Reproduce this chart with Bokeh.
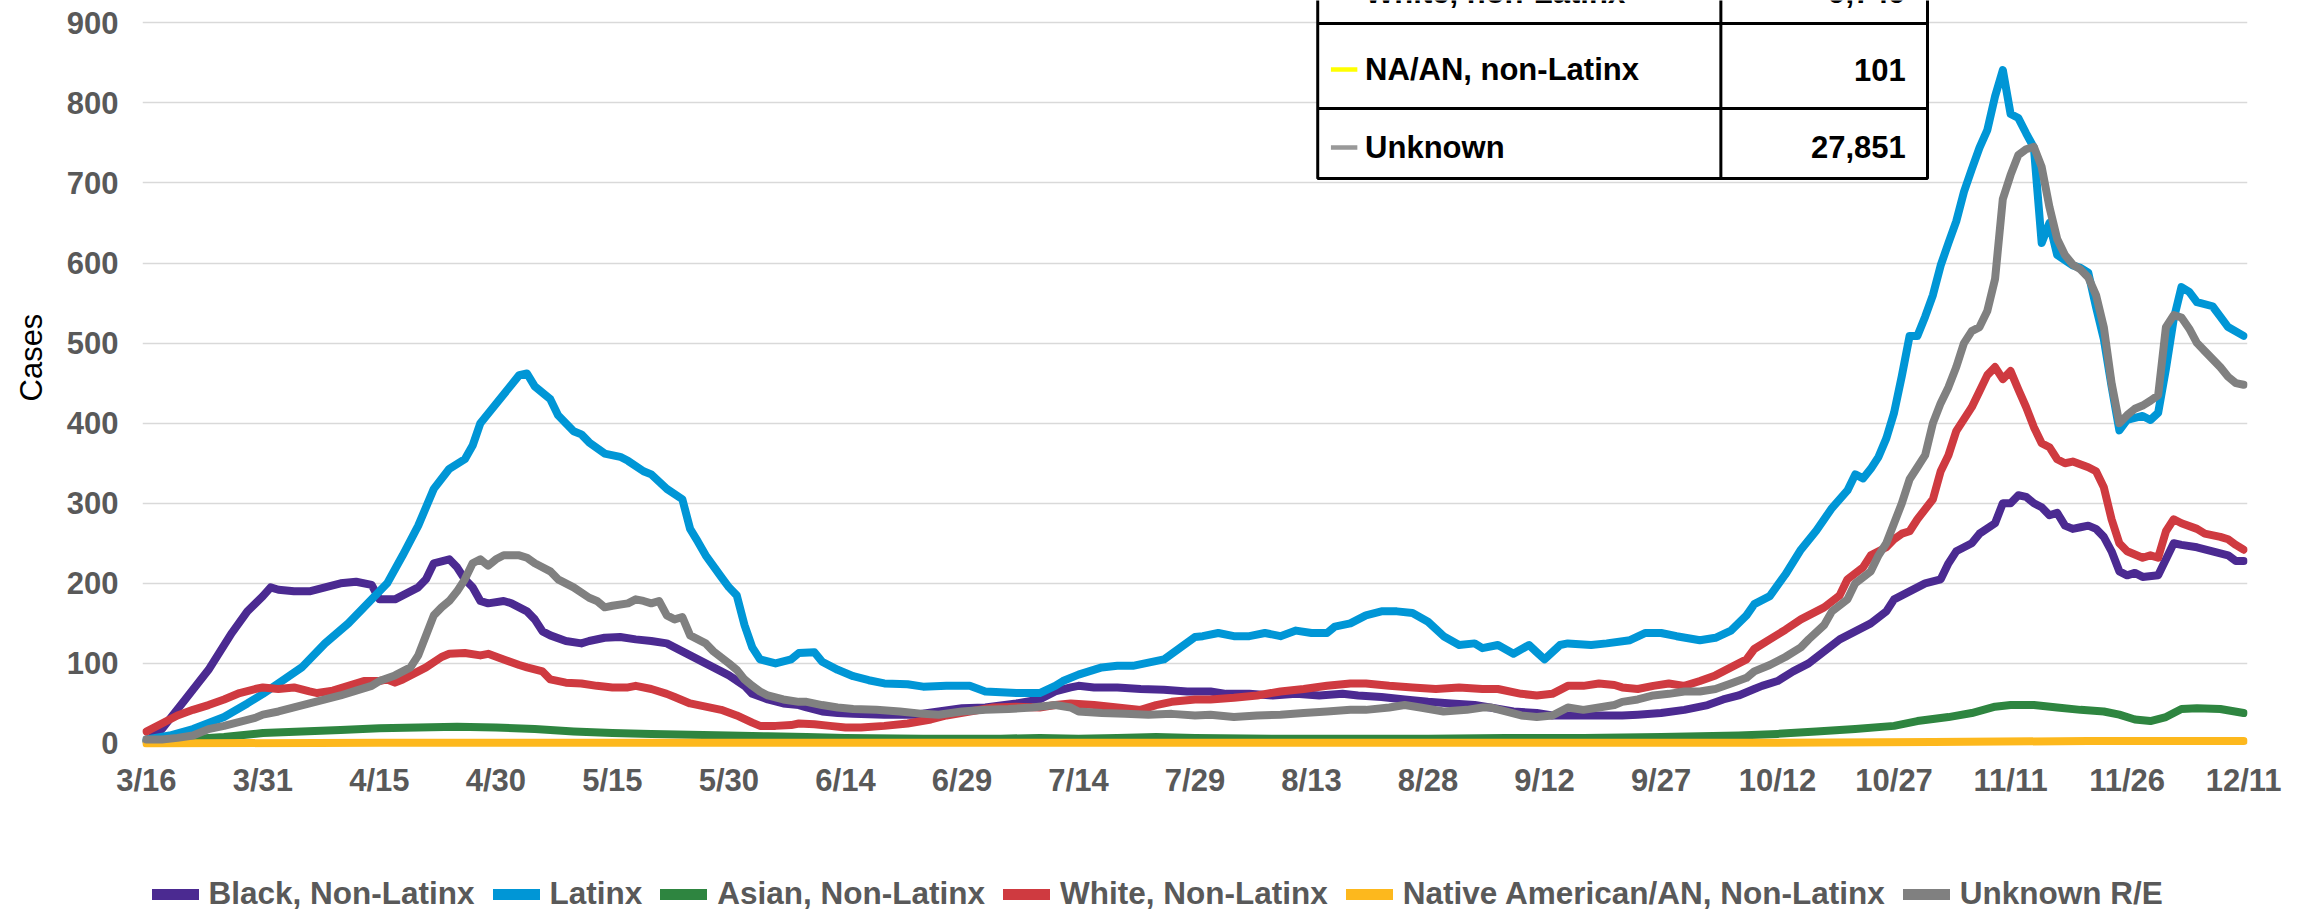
import math
from bokeh.plotting import figure
from bokeh.layouts import column
from bokeh.models import FixedTicker, Legend, LegendItem, Title, Range1d
from bokeh.embed import file_html
from bokeh.resources import INLINE
from bokeh.core.properties import value

# ---------------- data ----------------
tick_days = [0, 15, 30, 45, 60, 75, 90, 105, 120, 135, 150, 165, 180, 195, 210, 225, 240, 255, 270]
tick_labels = ["3/16", "3/31", "4/15", "4/30", "5/15", "5/30", "6/14", "6/29", "7/14", "7/29",
               "8/13", "8/28", "9/12", "9/27", "10/12", "10/27", "11/11", "11/26", "12/11"]
y_ticks = [0, 100, 200, 300, 400, 500, 600, 700, 800, 900]

# (day offset from 3/16, cases)
black = [(0,3),(2,18),(5,55),(8,92),(11,138),(13,165),(15,184),(16,195),(17,192),(19,190),(21,190),(23,195),
         (25,200),(27,202),(29,198),(30,180),(32,180),(33,185),(35,195),(36,205),(37,225),(39,230),(40,220),
         (41,205),(42,195),(43,178),(44,175),(46,178),(47,175),(49,165),(50,155),(51,140),(52,135),(54,128),
         (56,125),(57,128),(59,132),(61,133),(63,130),(65,128),(67,125),(68,120),(70,110),(72,100),(74,90),
         (75,85),(77,72),(78,62),(80,55),(82,50),(84,48),(85,45),(87,40),(89,38),(91,37),(95,36),(99,36),
         (102,40),(105,44),(108,45),(112,50),(115,55),(117,65),(119,70),(120,72),(122,70),(125,70),(128,68),
         (131,67),(134,65),(137,65),(139,62),(142,62),(145,60),(148,62),(151,60),(154,62),(156,60),(159,58),
         (162,55),(165,52),(168,50),(171,48),(173,45),(176,40),(179,38),(181,35),(184,35),(187,35),(190,35),
         (192,36),(195,38),(198,42),(201,48),(203,55),(205,60),(207,68),(208,72),(210,78),(212,90),(214,100),
         (216,115),(218,130),(220,140),(222,150),(224,165),(225,180),(227,190),(229,200),(231,205),(232,225),
         (233,240),(235,250),(236,262),(238,275),(239,300),(240,300),(241,310),(242,308),(243,300),(244,295),
         (245,285),(246,288),(247,272),(248,268),(249,270),(250,272),(251,268),(252,258),(253,240),(254,215),
         (255,210),(256,213),(257,208),(259,210),(260,230),(261,250),(262,248),(264,245),(266,240),(268,235),
         (269,228),(270,228)]
latinx = [(0,5),(3,10),(6,18),(10,33),(13,50),(15,62),(17,75),(20,95),(23,125),(26,150),(28,170),(31,200),
          (33,235),(35,272),(37,318),(39,343),(41,355),(42,372),(43,400),(45,424),(47,448),(48,460),(49,462),
          (50,446),(52,430),(53,410),(55,390),(56,386),(57,376),(59,362),(61,358),(62,353),(64,340),(65,336),
          (67,318),(69,305),(70,268),(71,252),(72,235),(74,208),(75,195),(76,185),(77,148),(78,120),(79,105),
          (81,100),(83,105),(84,113),(86,114),(87,102),(89,92),(91,84),(93,79),(95,75),(98,74),(100,71),
          (103,72),(106,72),(108,65),(112,63),(115,63),(117,72),(118,78),(120,86),(123,95),(125,97),(127,97),
          (129,101),(131,105),(133,119),(135,133),(136,134),(138,138),(140,134),(142,134),(144,138),(146,134),
          (148,141),(150,138),(152,138),(153,146),(155,150),(157,160),(159,165),(161,165),(163,163),(165,152),
          (167,134),(169,123),(171,125),(172,119),(174,123),(176,112),(178,123),(179,114),(180,105),(182,123),
          (183,125),(186,123),(188,125),(191,129),(193,138),(195,138),(197,134),(200,129),(202,132),(204,141),
          (206,160),(207,174),(209,184),(211,211),(213,242),(215,266),(217,294),(219,316),(220,336),(221,331),
          (222,343),(223,358),(224,381),(225,413),(226,459),(227,509),(228,509),(229,533),(230,560),(231,597),
          (232,625),(233,652),(234,689),(235,717),(236,744),(237,766),(238,808),(239,841),(240,786),(241,781),
          (242,762),(243,744),(244,625),(245,650),(246,610),(248,597),(249,594),(250,588),(251,545),(252,505),
          (253,446),(254,391),(255,404),(257,409),(258,404),(259,413),(260,468),(261,530),(262,570),(263,564),
          (264,551),(266,546),(267,533),(268,520),(270,509)]
asian = [(0,3),(5,5),(10,8),(15,13),(20,15),(25,17),(30,19),(35,20),(40,21),(45,20),(50,18),(55,15),(60,13),
         (65,12),(70,11),(75,10),(80,9),(85,8),(90,7),(100,6),(110,6),(115,7),(120,6),(125,7),(130,8),(135,7),
         (145,6),(155,6),(165,6),(175,7),(185,7),(195,8),(200,9),(205,10),(210,12),(215,15),(220,18),(225,22),
         (228,28),(232,33),(235,38),(238,46),(240,48),(243,48),(246,45),(249,42),(252,40),(254,36),(256,30),
         (258,28),(260,33),(262,43),(264,44),(267,43),(270,38)]
white = [(0,15),(2,25),(4,35),(6,42),(8,48),(10,55),(12,63),(14,68),(15,70),(17,68),(19,70),(21,65),(22,63),
         (24,66),(26,72),(28,78),(30,78),(31,80),(32,76),(33,80),(34,85),(36,95),(38,108),(39,112),(41,113),
         (43,110),(44,112),(46,105),(48,98),(49,95),(51,90),(52,80),(54,76),(56,75),(58,72),(60,70),(62,70),
         (63,72),(65,68),(67,62),(68,58),(70,50),(72,46),(74,42),(76,35),(78,26),(79,22),(81,22),(83,23),
         (84,25),(86,24),(88,22),(90,20),(92,20),(95,22),(98,25),(101,30),(103,35),(106,40),(109,45),(112,46),
         (115,45),(117,48),(119,50),(122,48),(125,45),(128,42),(130,48),(132,52),(135,55),(137,55),(140,57),
         (143,60),(146,65),(149,68),(152,72),(155,75),(157,75),(160,72),(163,70),(166,68),(169,70),(172,68),
         (174,68),(177,62),(179,60),(181,62),(183,72),(185,72),(187,75),(189,73),(190,70),(192,68),(194,72),
         (196,75),(198,72),(200,78),(202,85),(204,95),(206,105),(207,118),(209,130),(211,142),(213,155),
         (215,165),(216,170),(218,185),(219,205),(221,220),(222,235),(224,245),(225,255),(226,262),(227,265),
         (228,280),(230,305),(231,340),(232,360),(233,390),(234,405),(235,420),(236,440),(237,460),(238,470),
         (239,455),(240,465),(241,442),(242,420),(243,395),(244,375),(245,370),(246,355),(247,350),(248,352),
         (250,345),(251,340),(252,320),(253,280),(254,250),(255,240),(257,232),(258,235),(259,232),(260,265),
         (261,280),(262,275),(264,268),(265,262),(267,258),(268,255),(269,248),(270,242)]
native = [(0,0),(30,1),(60,1),(90,1),(120,1),(150,1),(180,1),(210,1),(230,2),(250,3),(270,3)]
unknown = [(0,5),(2,5),(4,7),(6,10),(8,18),(10,22),(12,27),(14,32),(15,36),(17,40),(19,45),(21,50),(23,55),
           (25,60),(27,66),(29,72),(30,78),(32,85),(33,90),(34,95),(35,110),(36,135),(37,160),(38,170),(39,178),
           (40,190),(41,205),(42,225),(43,230),(44,222),(45,230),(46,235),(47,235),(48,235),(49,232),(50,225),
           (52,215),(53,205),(54,200),(55,195),(57,182),(58,178),(59,170),(60,172),(62,175),(63,180),(64,178),
           (65,175),(66,178),(67,160),(68,155),(69,158),(70,135),(72,125),(73,115),(75,100),(76,92),(77,80),
           (78,72),(79,65),(80,60),(82,55),(84,52),(85,52),(87,48),(89,45),(91,43),(94,42),(97,40),(100,37),
           (102,36),(105,40),(108,42),(111,43),(114,45),(117,48),(119,45),(120,40),(123,38),(126,37),(129,36),
           (132,37),(135,35),(137,36),(140,33),(143,35),(146,36),(149,38),(152,40),(155,42),(157,42),(160,45),
           (162,48),(164,45),(167,40),(170,42),(172,45),(173,45),(175,40),(177,35),(179,33),(181,35),(183,45),
           (185,42),(187,45),(189,48),(190,52),(192,55),(194,60),(196,62),(198,65),(200,65),(202,68),(204,75),
           (206,82),(207,90),(209,98),(211,108),(213,120),(214,130),(216,148),(217,165),(219,180),(220,200),
           (222,215),(223,235),(224,250),(225,275),(226,300),(227,330),(228,345),(229,360),(230,400),(231,425),
           (232,445),(233,470),(234,500),(235,515),(236,520),(237,540),(238,580),(239,680),(240,710),(241,735),
           (242,742),(243,745),(244,720),(245,670),(246,630),(247,610),(248,598),(249,592),(250,582),(251,560),
           (252,520),(253,450),(254,400),(255,410),(256,418),(257,422),(258,428),(259,435),(260,520),(261,535),
           (262,532),(263,518),(264,500),(265,490),(266,480),(267,470),(268,458),(269,450),(270,448)]

series_names = ["Black, Non-Latinx", "Latinx", "Asian, Non-Latinx", "White, Non-Latinx",
                "Native American/AN, Non-Latinx", "Unknown R/E"]
series_data = [black, latinx, asian, white, native, unknown]
series_colors = ["#4b2a91", "#0096d6", "#2e8540", "#cf3a40", "#fdb81d", "#808080"]

table_labels = ["White, non-Latinx", "NA/AN, non-Latinx", "Unknown"]
table_values = ["9,749", "101", "27,851"]
table_marker_colors = ["#cf3a40", "#ffff00", "#999999"]

# ---------------- style / layout ----------------
FONT = "Liberation Sans"
TXT = "#595959"

p = figure(width=2305, height=866,
           min_border_left=141, min_border_right=58, min_border_top=0, min_border_bottom=119,
           x_range=Range1d(-0.5, 270.5), y_range=Range1d(-5, 927.8),
           output_backend="svg", toolbar_location=None)
p.outline_line_color = None
p.background_fill_color = "white"
p.border_fill_color = "white"

p.xgrid.grid_line_color = None
p.ygrid.ticker = FixedTicker(ticks=y_ticks)
p.ygrid.grid_line_color = "#d9d9d9"
p.ygrid.grid_line_width = 1.5

p.yaxis.ticker = FixedTicker(ticks=y_ticks)
p.xaxis.ticker = FixedTicker(ticks=tick_days)
p.xaxis.major_label_overrides = {d: l for d, l in zip(tick_days, tick_labels)}
for ax in (p.xaxis[0], p.yaxis[0]):
    ax.axis_line_color = None
    ax.major_tick_line_color = None
    ax.minor_tick_line_color = None
    ax.major_tick_out = 0
    ax.major_label_text_font = FONT
    ax.major_label_text_font_style = "bold"
    ax.major_label_text_font_size = "31px"
    ax.major_label_text_color = TXT
p.yaxis.major_label_standoff = 24
p.xaxis.major_label_standoff = 15

# y-axis title (anchored at the frame bottom, shifted up)
p.add_layout(Title(text="Cases", align="left", vertical_align="top", offset=346, standoff=26,
                   text_font=FONT, text_font_style="normal", text_font_size="31px",
                   text_color="black"), "left")

for name, data, color in zip(series_names, series_data, series_colors):
    xs = [d for d, _ in data]
    ys = [v for _, v in data]
    p.line(xs, ys, line_color=color, line_width=8, line_join="round", line_cap="round")

# ---------------- summary table (top right) ----------------
tx = [150.8, 202.7, 229.3]
ty = [1010, 899.1, 793.0, 705.5]
row_mid = [937.8, 841.6, 744.3]
p.quad(left=tx[0], right=tx[2], top=ty[0], bottom=ty[3], fill_color="white", line_color="black", line_width=3)
p.segment(x0=[tx[1], tx[0], tx[0]], y0=[ty[0], ty[1], ty[2]], x1=[tx[1], tx[2], tx[2]], y1=[ty[3], ty[1], ty[2]],
          line_color="black", line_width=3)
p.segment(x0=[152.5] * 3, y0=row_mid, x1=[155.9] * 3, y1=row_mid, line_color=table_marker_colors, line_width=4.5)
p.text(x=[156.9] * 3, y=row_mid, text=table_labels, text_font=value(FONT), text_font_style="bold",
       text_font_size=value("31px"), text_color="black", text_align="left", text_baseline="middle")
p.text(x=[226.5] * 3, y=row_mid, text=table_values, text_font=value(FONT), text_font_style="bold",
       text_font_size=value("31px"), text_color="black", text_align="right", text_baseline="middle")

# ---------------- legend strip below the chart ----------------
lg = figure(width=2305, height=46, min_border=0, x_range=Range1d(0, 1), y_range=Range1d(0, 1),
            x_axis_location=None, y_axis_location=None, output_backend="svg", toolbar_location=None)
lg.outline_line_color = None
lg.grid.visible = False
lg.background_fill_color = "white"
lg.border_fill_color = "white"
# swatch-only renderers (their points lie outside the strip's ranges)
legend_renderers = [lg.line([-5, -4], [-5, -4], line_color=c, line_width=11, line_cap="round")
                    for c in series_colors]
legend = Legend(items=[LegendItem(label=value(n), renderers=[r]) for n, r in zip(series_names, legend_renderers)],
                orientation="horizontal", location=(9.5, 0),
                label_text_font=FONT, label_text_font_style="bold", label_text_font_size="31.5px",
                label_text_color=TXT, glyph_width=47, glyph_height=20, label_standoff=10, spacing=18,
                padding=0, margin=0, border_line_color=None, background_fill_alpha=0)
lg.add_layout(legend)

layout = column(p, lg, spacing=0)
open("out.html", "w").write(file_html(layout, INLINE))
